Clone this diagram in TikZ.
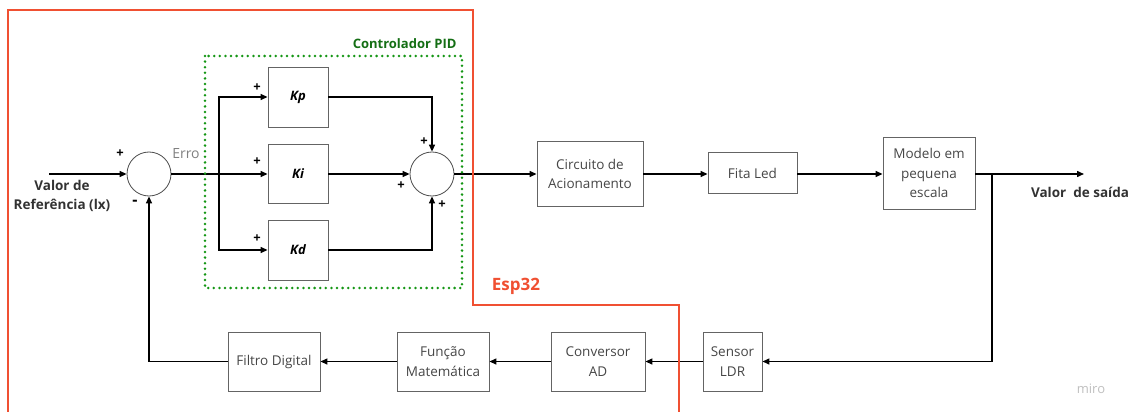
\documentclass[tikz,border=0pt]{standalone}
\usepackage{fontspec}
\setmainfont{Open Sans}
\usetikzlibrary{arrows.meta}
\definecolor{esp}{RGB}{240,80,50}
\definecolor{pidg}{RGB}{20,150,20}
\definecolor{pidt}{RGB}{20,110,20}
\definecolor{boxc}{RGB}{100,100,100}
\definecolor{txtc}{RGB}{50,50,50}
\definecolor{btxt}{RGB}{70,70,70}
\begin{document}
\begin{tikzpicture}[x=1pt,y=-1pt,
  blk/.style 2 args={draw=boxc, line width=0.9pt, fill=white, minimum width=#1, minimum height=#2, inner sep=1pt, align=center, text=btxt, font=\fontsize{13.5}{19.5}\selectfont},
  gain/.style={draw=boxc, line width=0.9pt, fill=white, minimum width=60, minimum height=60, inner sep=0pt, font=\fontsize{13}{16}\selectfont\bfseries\itshape},
  sumc/.style={draw=black!70, line width=0.8pt, circle, minimum size=44, inner sep=0pt, fill=white},
  wire/.style={line width=1.4pt, black},
  arr/.style={wire, -{Triangle[length=7pt,width=6pt]}},
  sgn/.style={font=\fontsize{13}{14}\selectfont\bfseries, inner sep=0pt},
  lbl/.style={font=\fontsize{13.5}{19}\selectfont\bfseries, align=center, text=txtc}]
\useasboundingbox (0,0) rectangle (1136,412);
% nodes
\node[sumc] (s1) at (149,174) {};
\node[sumc] (s2) at (432,174) {};
\node[gain] (kp) at (298,97) {Kp};
\node[gain, minimum height=59] (ki) at (298,174) {Ki};
\node[gain] (kd) at (298,250) {Kd};
\node[blk={106}{65}] (circ) at (590,174) {Circuito de\\Acionamento};
\node[blk={89}{41}] (fita) at (752.5,173) {Fita Led};
\node[blk={92}{72}] (mod) at (929,173) {Modelo em\\pequena\\escala};
\node[blk={59}{59}] (sens) at (732.5,361.5) {Sensor\\LDR};
\node[blk={94}{59}] (conv) at (598,361.5) {Conversor\\AD};
\node[blk={92}{59}] (func) at (443,361.5) {Função\\Matemática};
\node[blk={92}{59}] (filt) at (274,361.5) {Filtro Digital};
\coordinate (in) at (49,174);
\coordinate (br) at (219,174);
\coordinate (out) at (1084,174);
\coordinate (bo) at (992,174);
% texts
\node[lbl] (ref) at (62,196) {Valor de\\Referência (lx)};
\node[lbl] (sai) at (1080,192) {Valor\ \ de saída};
\node[font=\fontsize{14}{16}\selectfont, text=black!50] (erro) at (186,154) {Erro};
\node[sgn] (p1) at (120,154) {+};
\node[sgn, font=\fontsize{16}{16}\selectfont\bfseries] (m1) at (135,203) {-};
\node[sgn] (p2) at (257,88) {+};
\node[sgn] (p3) at (257,162) {+};
\node[sgn] (p4) at (257,239) {+};
\node[sgn] (p5) at (424,142) {+};
\node[sgn] (p6) at (401,186) {+};
\node[sgn] (p7) at (442,205) {+};
% wires
\draw[arr] (in) -- (s1.west);
\draw[arr] (s1.east) -- (ki.west);
\draw[arr] (br) |- (kp.west);
\draw[arr] (br) |- (kd.west);
\draw[arr] (kp.east) -| (s2.north);
\draw[arr] (kd.east) -| (s2.south);
\draw[arr] (ki.east) -- (s2.west);
\draw[arr] (s2.east) -- (circ.west);
\draw[arr] (circ.east) -- (circ.east -| fita.west);
\draw[arr] (circ.east -| fita.east) -- (circ.east -| mod.west);
\draw[arr] (circ.east -| mod.east) -- (out);
\draw[arr] (bo) |- (sens.east);
\draw[arr] (sens.west) -- (conv.east);
\draw[arr] (conv.west) -- (func.east);
\draw[arr] (func.west) -- (filt.east);
\draw[arr] (filt.west) -| (s1.south);
% PID group
\draw[pidg, line width=2.8pt, line cap=round, dash pattern=on 0pt off 5.6pt] (205,56) rectangle (462,288);
\node[font=\fontsize{13}{16}\selectfont\bfseries, text=pidt, anchor=east] (pid) at (460,44) {Controlador PID};
% Esp32 region
\draw[esp, line width=1.3pt] (8,413) -- (8,10) -- (473,10) -- (473,305) -- (679,305) -- (679,413);
\node[font=\fontsize{17}{20}\selectfont\bfseries, text=esp] (esp) at (516,286) {Esp32};
\node[font=\fontsize{13}{16}\selectfont, text=black!25] (miro) at (1091,389) {miro};
\end{tikzpicture}
\end{document}
